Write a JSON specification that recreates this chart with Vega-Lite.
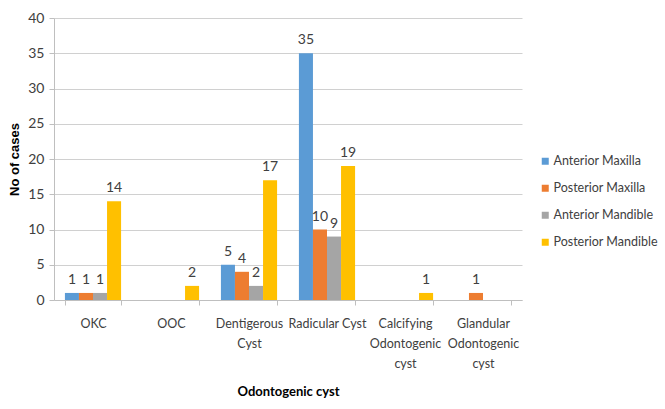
{
  "$schema": "https://vega.github.io/schema/vega-lite/v6.json",
  "width": 468,
  "height": 282,
  "autosize": {"type": "none"},
  "padding": {"left": 54, "top": 18, "right": 143, "bottom": 109},
  "background": "white",
  "config": {
    "view": {"stroke": null},
    "font": "Lato"
  },
  "data": {
    "values": [
      {"cyst": "OKC", "site": "Anterior Maxilla", "cases": 1},
      {"cyst": "OKC", "site": "Posterior Maxilla", "cases": 1},
      {"cyst": "OKC", "site": "Anterior Mandible", "cases": 1},
      {"cyst": "OKC", "site": "Posterior Mandible", "cases": 14},
      {"cyst": "OOC", "site": "Anterior Maxilla", "cases": 0},
      {"cyst": "OOC", "site": "Posterior Maxilla", "cases": 0},
      {"cyst": "OOC", "site": "Anterior Mandible", "cases": 0},
      {"cyst": "OOC", "site": "Posterior Mandible", "cases": 2},
      {"cyst": "Dentigerous Cyst", "site": "Anterior Maxilla", "cases": 5},
      {"cyst": "Dentigerous Cyst", "site": "Posterior Maxilla", "cases": 4},
      {"cyst": "Dentigerous Cyst", "site": "Anterior Mandible", "cases": 2},
      {"cyst": "Dentigerous Cyst", "site": "Posterior Mandible", "cases": 17},
      {"cyst": "Radicular Cyst", "site": "Anterior Maxilla", "cases": 35},
      {"cyst": "Radicular Cyst", "site": "Posterior Maxilla", "cases": 10},
      {"cyst": "Radicular Cyst", "site": "Anterior Mandible", "cases": 9},
      {"cyst": "Radicular Cyst", "site": "Posterior Mandible", "cases": 19},
      {"cyst": "Calcifying Odontogenic cyst", "site": "Anterior Maxilla", "cases": 0},
      {"cyst": "Calcifying Odontogenic cyst", "site": "Posterior Maxilla", "cases": 0},
      {"cyst": "Calcifying Odontogenic cyst", "site": "Anterior Mandible", "cases": 0},
      {"cyst": "Calcifying Odontogenic cyst", "site": "Posterior Mandible", "cases": 1},
      {"cyst": "Glandular Odontogenic cyst", "site": "Anterior Maxilla", "cases": 0},
      {"cyst": "Glandular Odontogenic cyst", "site": "Posterior Maxilla", "cases": 1},
      {"cyst": "Glandular Odontogenic cyst", "site": "Anterior Mandible", "cases": 0},
      {"cyst": "Glandular Odontogenic cyst", "site": "Posterior Mandible", "cases": 0}
    ]
  },
  "encoding": {
    "x": {
      "field": "cyst",
      "type": "nominal",
      "sort": null,
      "scale": {"paddingInner": 0.28, "paddingOuter": 0.14},
      "axis": {
        "title": "Odontogenic cyst",
        "titleFont": "Lato",
        "titleFontSize": 13,
        "titleFontWeight": "bold",
        "titleColor": "#000000",
        "titlePadding": 16,
        "labelAngle": 0,
        "labelFontSize": 12.5,
        "labelColor": "#404040",
        "labelPadding": 12,
        "labelLineHeight": 20,
        "labelExpr": "datum.label == 'Dentigerous Cyst' ? ['Dentigerous', 'Cyst'] : datum.label == 'Calcifying Odontogenic cyst' ? ['Calcifying', 'Odontogenic', 'cyst'] : datum.label == 'Glandular Odontogenic cyst' ? ['Glandular', 'Odontogenic', 'cyst'] : datum.label",
        "tickBand": "extent",
        "tickSize": 5,
        "tickColor": "#BFBFBF",
        "domainColor": "#BFBFBF",
        "grid": false
      }
    },
    "xOffset": {
      "field": "site",
      "type": "nominal",
      "sort": ["Anterior Maxilla", "Posterior Maxilla", "Anterior Mandible", "Posterior Mandible"],
      "scale": {"paddingInner": 0, "paddingOuter": 0}
    },
    "y": {
      "field": "cases",
      "type": "quantitative",
      "scale": {"domain": [0, 40]},
      "axis": {
        "title": "No of cases",
        "titleFont": "Liberation Sans",
        "titleFontSize": 13,
        "titleFontWeight": "bold",
        "titleColor": "#000000",
        "titlePadding": 6,
        "values": [0, 5, 10, 15, 20, 25, 30, 35, 40],
        "labelOverlap": false,
        "labelFontSize": 14,
        "labelColor": "#404040",
        "labelPadding": 5,
        "tickSize": 5,
        "tickColor": "#BFBFBF",
        "domainColor": "#BFBFBF",
        "gridColor": "#D0D0D0",
        "gridWidth": 1
      }
    }
  },
  "layer": [
    {
      "mark": {"type": "bar"},
      "encoding": {
        "color": {
          "field": "site",
          "type": "nominal",
          "sort": ["Anterior Maxilla", "Posterior Maxilla", "Anterior Mandible", "Posterior Mandible"],
          "scale": {
            "domain": ["Anterior Maxilla", "Posterior Maxilla", "Anterior Mandible", "Posterior Mandible"],
            "range": ["#5B9BD5", "#ED7D31", "#A5A5A5", "#FFC000"]
          },
          "legend": {
            "title": null,
            "orient": "none",
            "legendX": 485,
            "legendY": 137,
            "symbolType": "square",
            "symbolSize": 49,
            "symbolStrokeWidth": 0,
            "labelFontSize": 12.5,
            "labelColor": "#404040",
            "labelFont": "Lato",
            "rowPadding": 14,
            "labelOffset": 2
          }
        }
      }
    },
    {
      "transform": [{"filter": "datum.cases > 0"}],
      "mark": {"type": "text", "baseline": "bottom", "dy": -6, "fontSize": 14, "color": "#404040"},
      "encoding": {
        "text": {"field": "cases", "type": "quantitative"}
      }
    }
  ]
}
